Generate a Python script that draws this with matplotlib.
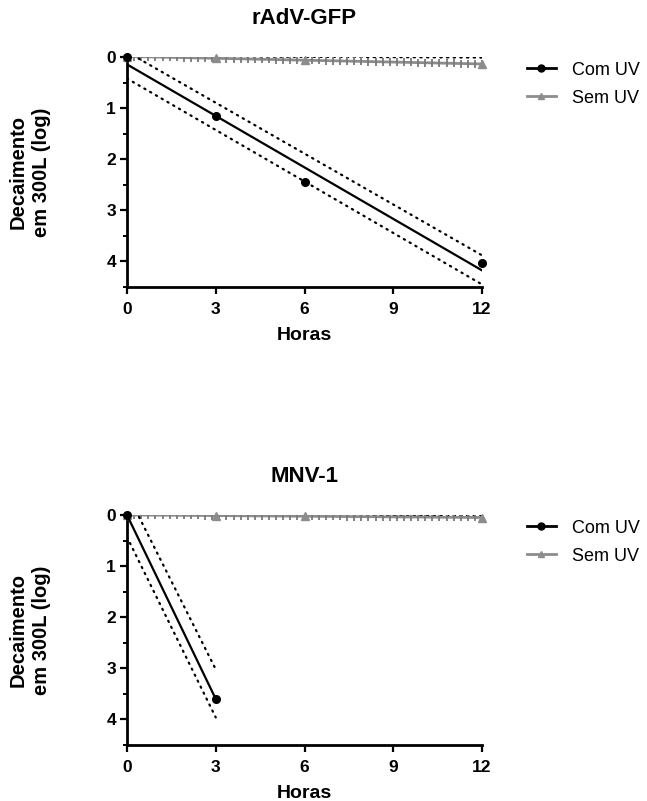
import numpy as np
import matplotlib
matplotlib.use("Agg")
import matplotlib.pyplot as plt
from matplotlib.ticker import MultipleLocator

plt.rcParams['font.family'] = ['Liberation Sans', 'DejaVu Sans']

# ---------------- data ----------------
titles = ["rAdV-GFP", "MNV-1"]
series_names = ["Com UV", "Sem UV"]

hours_top = [0, 3, 6, 12]
com_uv_top = [0.0, 1.15, 2.45, 4.03]
sem_uv_top = [0.0, 0.01, 0.06, 0.14]
# confidence band ends (x = 0 and x = 12)
band_x_top = [0, 12]
com_upper_top = [-0.10, 3.88]
com_lower_top = [0.42, 4.45]
sem_upper_top = [-0.02, 0.01]

hours_com_bot = [0, 3]
com_uv_bot = [0.0, 3.60]
hours_sem_bot = [0, 3, 6, 12]
sem_uv_bot = [0.0, 0.01, 0.02, 0.05]
band_x_bot = [0, 3]
com_upper_bot = [-0.43, 3.02]
com_lower_bot = [0.43, 3.96]
sem_band_x_bot = [0, 12]
sem_upper_bot = [-0.02, 0.01]

xticks = [0, 3, 6, 9, 12]
yticks = [0, 1, 2, 3, 4]

GRAY = "#8c8c8c"

fig = plt.figure(figsize=(6.47, 8.01), dpi=100)
ax_top = fig.add_axes([0.1963, 0.6417, 0.5487, 0.2871])
ax_bot = fig.add_axes([0.1963, 0.0699, 0.5487, 0.2871])


def draw(ax, title, hx_com, ycom, hx_sem, ysem, bx, up, lo, sbx, sup):
    # Sem UV regression
    p = np.polyfit(hx_sem, ysem, 1)
    xs = np.linspace(min(hx_sem), max(hx_sem), 51)
    ax.plot(sbx, sup, color="black", lw=1.6, ls=(0, (0.6, 2.4)),
            dash_capstyle="round", zorder=2)
    ax.plot(xs, np.polyval(p, xs), color=GRAY, lw=2.0, zorder=3)
    ax.plot(xs, np.polyval(p, xs), ls="none", color="#7a7a7a", marker="|",
            markersize=6, markeredgewidth=1.3, zorder=3)
    ax.plot(hx_sem, ysem, ls="none", marker="^", color=GRAY,
            markersize=6, zorder=4, clip_on=False)
    # Com UV regression
    pc = np.polyfit(hx_com, ycom, 1)
    xc = np.linspace(min(hx_com), max(hx_com), 50)
    ax.plot(xc, np.polyval(pc, xc), color="black", lw=1.6, zorder=5)
    ax.plot(bx, up, color="black", lw=1.6, ls=(0, (0.6, 2.4)),
            dash_capstyle="round", zorder=5)
    ax.plot(bx, lo, color="black", lw=1.6, ls=(0, (0.6, 2.4)),
            dash_capstyle="round", zorder=5)
    ax.plot(hx_com, ycom, ls="none", marker="o", color="black",
            markersize=5.5, zorder=6, clip_on=False)

    ax.set_xlim(0, 12)
    ax.set_ylim(4.5, 0)
    ax.set_xticks(xticks)
    ax.set_yticks(yticks)
    ax.yaxis.set_minor_locator(MultipleLocator(0.5))
    for s in ["top", "right"]:
        ax.spines[s].set_visible(False)
    for s in ["left", "bottom"]:
        ax.spines[s].set_linewidth(2)
    ax.tick_params(axis="both", which="major", length=5, width=1.6,
                   labelsize=12.5, pad=3)
    ax.tick_params(axis="x", which="major", pad=6)
    ax.tick_params(axis="y", which="minor", length=3, width=1.4)
    for lab in ax.get_xticklabels() + ax.get_yticklabels():
        lab.set_fontweight("bold")
    ax.set_xlabel("Horas", fontsize=14, fontweight="bold", labelpad=7)
    ax.set_ylabel("Decaimento\nem 300L (log)", fontsize=14.5,
                  fontweight="bold", linespacing=1.25)
    ax.yaxis.set_label_coords(-0.215, 0.5)
    ax.set_title(title, fontsize=16, fontweight="bold", pad=24)

    h1, = ax.plot([], [], color="black", lw=2, marker="o", markersize=5)
    h2, = ax.plot([], [], color=GRAY, lw=2, marker="^", markersize=5)
    ax.legend([h1, h2], series_names, loc="upper left",
              bbox_to_anchor=(1.08, 1.05), frameon=False, fontsize=13,
              handlelength=1.6, handletextpad=0.9, labelspacing=0.6)


draw(ax_top, titles[0], hours_top, com_uv_top, hours_top, sem_uv_top,
     band_x_top, com_upper_top, com_lower_top, band_x_top, sem_upper_top)
draw(ax_bot, titles[1], hours_com_bot, com_uv_bot, hours_sem_bot, sem_uv_bot,
     band_x_bot, com_upper_bot, com_lower_bot, sem_band_x_bot, sem_upper_bot)

fig.savefig("out.png", dpi=100)
